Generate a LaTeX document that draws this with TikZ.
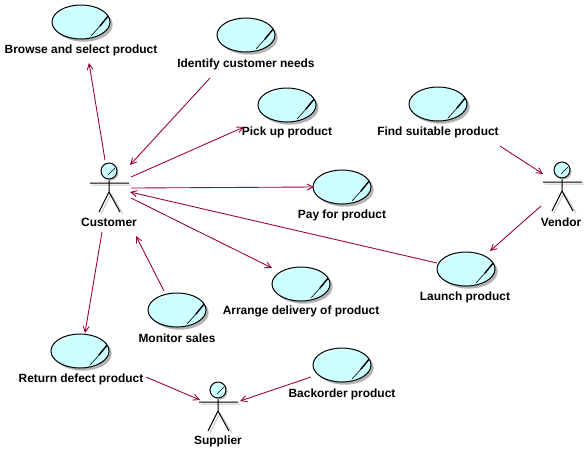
\documentclass[tikz,border=0pt]{standalone}
\usepackage{fontspec}
\setmainfont{Liberation Sans}
\usetikzlibrary{arrows.meta,shapes.geometric,shadows}
\definecolor{ucfill}{HTML}{CCFFFF}
\definecolor{linkred}{HTML}{990033}
\tikzset{
  usecase/.style={ellipse,draw=black,line width=.75pt,fill=ucfill,inner sep=0pt,
    minimum width=43.5pt,minimum height=25.5pt,
    drop shadow={shadow xshift=2pt,shadow yshift=-2pt,fill=black!30,opacity=1},
    path picture={
      \draw[white,line width=.6pt] ([shift={(-24,-7)}]path picture bounding box.center) .. controls ([shift={(-20,-12)}]path picture bounding box.center) and ([shift={(-14,-14)}]path picture bounding box.center) .. ([shift={(-8,-14)}]path picture bounding box.center);
      \draw[black,line width=.45pt] ([shift={(10,14)}]path picture bounding box.center) -- ([shift={(20,3)}]path picture bounding box.center);
      \draw[black,line width=1.1pt] ([shift={(19,4)}]path picture bounding box.center) -- ([shift={(28,-7)}]path picture bounding box.center);
    }},
  actorhead/.style={circle,draw=black,line width=.75pt,fill=ucfill,inner sep=0pt,minimum size=12pt,
    drop shadow={shadow xshift=1.2pt,shadow yshift=-1.2pt,fill=black!25,opacity=1},
    path picture={
      \draw[black,line width=.4pt] ([shift={(-1,4)}]path picture bounding box.center) -- ([shift={(6,-3)}]path picture bounding box.center);
    }},
  actor/.pic={
    \draw[black!22,line width=.75pt] (-17,14) -- (22,14) (2,23) -- (-8,43) (2,23) -- (14,43);
    \draw[black,line width=.75pt] (0,8) -- (0,21) (-19,12) -- (20,12) (0,21) -- (-10,41) (0,21) -- (11,41);
  },
  uctext/.style={font=\bfseries\fontsize{8.95}{10}\selectfont,inner sep=0pt},
  link/.style={linkred,line width=.65pt,-{Straight Barb[length=4.5pt,width=4.5pt]}},
}
\begin{document}
\begin{tikzpicture}[x=.75pt,y=-.75pt]
\useasboundingbox (0,0) rectangle (588,451);
% actors
\pic at (109,171) {actor};
\node[actorhead] (customer) at (109,171) {};
\node[uctext] (customertext) at (109,222) {Customer};
\pic at (562,170) {actor};
\node[actorhead] (vendor) at (562,170) {};
\node[uctext] (vendortext) at (561,222) {Vendor};
\pic at (218,390) {actor};
\node[actorhead] (supplier) at (218,390) {};
\node[uctext] (suppliertext) at (218,441) {Supplier};
% use cases
\node[usecase] (browse) at (81,22) {};
\node[uctext] (browsetext) at (81,50) {Browse and select product};
\node[usecase] (identify) at (246,35) {};
\node[uctext] (identifytext) at (246,64) {Identify customer needs};
\node[usecase] (pickup) at (287,105) {};
\node[uctext] (pickuptext) at (287,132) {Pick up product};
\node[usecase] (find) at (438,104) {};
\node[uctext] (findtext) at (438,132) {Find suitable product};
\node[usecase] (pay) at (342,187) {};
\node[uctext] (paytext) at (342,215) {Pay for product};
\node[usecase] (arrange) at (301,284) {};
\node[uctext] (arrangetext) at (301,311) {Arrange delivery of product};
\node[usecase] (launch) at (466,269) {};
\node[uctext] (launchtext) at (465,297) {Launch product};
\node[usecase] (monitor) at (177,310) {};
\node[uctext] (monitortext) at (177,338) {Monitor sales};
\node[usecase] (return) at (80,351) {};
\node[uctext] (returntext) at (81,379) {Return defect product};
\node[usecase] (backorder) at (342,365) {};
\node[uctext] (backordertext) at (342,394) {Backorder product};
% connectors
\draw[link] ([shift={(-4,-11)}]customer.center) -- ([shift={(8,13)}]browsetext.center);
\draw[link] ([shift={(-36,14)}]identifytext.center) -- ([shift={(21,-6)}]customer.center);
\draw[link] ([shift={(22,6)}]customer.center) -- ([shift={(-43,-5)}]pickuptext.center);
\draw[link] ([shift={(22,17)}]customer.center) -- ([shift={(-28,0)}]pay.center);
\draw[link] ([shift={(-29,-6)}]launch.center) -- ([shift={(21,21)}]customer.center);
\draw[link] ([shift={(22,27)}]customer.center) -- ([shift={(-29,-16)}]arrange.center);
\draw[link] ([shift={(-7,10)}]customertext.center) -- ([shift={(5,-18)}]return.center);
\draw[link] ([shift={(-13,-19)}]monitor.center) -- ([shift={(27,14)}]customertext.center);
\draw[link] ([shift={(65,-2)}]returntext.center) -- ([shift={(-18,10)}]supplier.center);
\draw[link] ([shift={(-31,12)}]backorder.center) -- ([shift={(22,11)}]supplier.center);
\draw[link] ([shift={(62,14)}]findtext.center) -- ([shift={(-19,4)}]vendor.center);
\draw[link] ([shift={(-21,36)}]vendor.center) -- ([shift={(24,-18)}]launch.center);
\end{tikzpicture}
\end{document}
